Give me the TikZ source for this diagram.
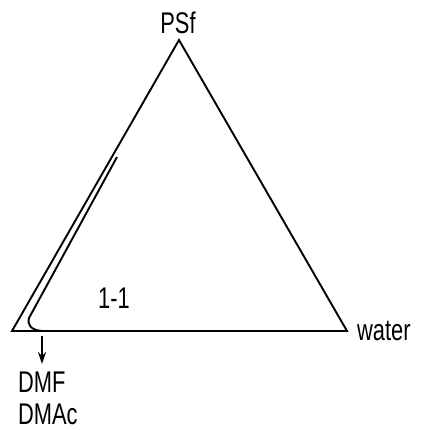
\documentclass[tikz,border=0pt]{standalone}
\usepackage{fontspec}
\setmainfont{Liberation Sans}
\usetikzlibrary{arrows.meta}
\begin{document}
\begin{tikzpicture}[x=1pt,y=-1pt,
  edge/.style={line width=1.9pt, line join=miter},
  lab/.style={inner sep=0pt, yscale=1.3, xscale=0.95, font=\fontsize{23}{26}\selectfont}]
\useasboundingbox (0,0) rectangle (421,430);
\coordinate (top) at (179,40);
\coordinate (left) at (12,331);
\coordinate (right) at (347,331);
\draw[edge] (left) -- (top) -- (right) -- cycle;
% binodal curve
\coordinate (b1) at (117,157);
\coordinate (b2) at (29,318);
\coordinate (b3) at (42,331);
\coordinate (b4) at (125,331);
\draw[edge] (b1) -- (b2) .. controls (27,325) and (31,330) .. (b3) -- (b4);
\node[lab, anchor=south, transform shape] (psf) at (178,34) {PSf};
\node[lab, anchor=west, transform shape] (water) at (357,331) {water};
\node[lab, transform shape] (oneone) at (114,298) {1-1};
\node[lab, anchor=west, transform shape] (dmf) at (18,382) {DMF};
\node[lab, anchor=west, transform shape] (dmac) at (18,414) {DMAc};
\coordinate (a1) at (42,336);
\coordinate (a2) at (42,364);
\draw[line width=1.9pt, -{Stealth[length=12pt,width=8pt]}] (a1) -- (a2);
\end{tikzpicture}
\end{document}
